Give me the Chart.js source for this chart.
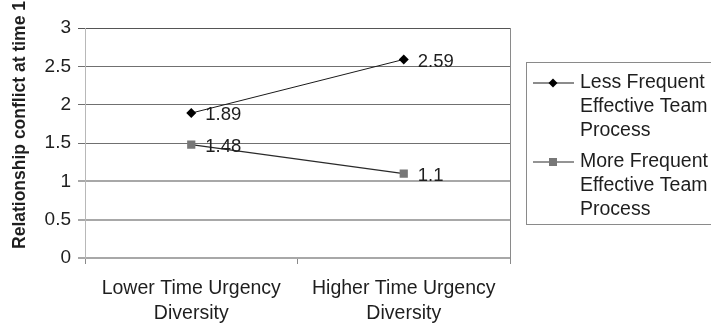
<!DOCTYPE html>
<html>
<head>
<meta charset="utf-8">
<script src="https://cdn.jsdelivr.net/npm/chart.js@4.4.1/dist/chart.umd.min.js"></script>
<style>
  html, body { margin: 0; padding: 0; background: #fff; }
  #wrap { position: relative; width: 711px; height: 326px; }
</style>
</head>
<body>
<div id="wrap"><canvas id="c" width="711" height="326"></canvas></div>
<script>
// Time urgency diversity groups on the x axis
const categories = [
  ['Lower Time Urgency', 'Diversity'],
  ['Higher Time Urgency', 'Diversity']
];
// Relationship conflict means per team-process group
const lessFrequent = [1.89, 2.59];
const moreFrequent = [1.48, 1.1];
const seriesNames = [
  ['Less Frequent', 'Effective Team', 'Process'],
  ['More Frequent', 'Effective Team', 'Process']
];
const yTicks = [0, 0.5, 1, 1.5, 2, 2.5, 3];
const yTitle = 'Relationship conflict at time 1';

const FONT = '"Liberation Sans", Arial, sans-serif';
const TEXT = '#1e1e1e';

// Value labels to the right of each point
const valueLabels = {
  id: 'valueLabels',
  afterDatasetsDraw(chart) {
    const ctx = chart.ctx;
    ctx.save();
    ctx.font = '18.5px ' + FONT;
    ctx.fillStyle = TEXT;
    ctx.textAlign = 'left';
    ctx.textBaseline = 'middle';
    chart.data.datasets.forEach((ds, i) => {
      chart.getDatasetMeta(i).data.forEach((pt, j) => {
        ctx.fillText(String(ds.data[j]), pt.x + 14, pt.y + 2);
      });
    });
    ctx.restore();
  }
};

// Plot frame on the right, rotated y title, boxed legend
const decorations = {
  id: 'decorations',
  afterDraw(chart) {
    const ctx = chart.ctx;
    const a = chart.chartArea;
    ctx.save();
    // right edge of plot area
    ctx.strokeStyle = '#8a8a8a';
    ctx.lineWidth = 1;
    ctx.beginPath();
    ctx.moveTo(a.right + 0.5, a.top);
    ctx.lineTo(a.right + 0.5, a.bottom + 6);
    ctx.stroke();

    // y axis title
    ctx.save();
    ctx.translate(20, (a.top + a.bottom) / 2 - 18);
    ctx.rotate(-Math.PI / 2);
    ctx.font = 'bold 17.5px ' + FONT;
    ctx.fillStyle = TEXT;
    ctx.textAlign = 'center';
    ctx.textBaseline = 'middle';
    ctx.fillText(yTitle, 0, 0);
    ctx.restore();

    // legend
    const lx = a.right + 16, ly = 62, lh = 162;
    ctx.strokeStyle = '#8a8a8a';
    ctx.lineWidth = 1;
    ctx.strokeRect(lx + 0.5, ly + 0.5, chart.width - lx + 10, lh);
    const rowH = 24;
    const groupTop = [83, 162];
    ctx.font = '19.5px ' + FONT;
    ctx.textAlign = 'left';
    ctx.textBaseline = 'middle';
    chart.data.datasets.forEach((ds, i) => {
      const y = groupTop[i];
      ctx.strokeStyle = ds.borderColor;
      ctx.lineWidth = 1.2;
      ctx.beginPath();
      ctx.moveTo(lx + 7, y);
      ctx.lineTo(lx + 48, y);
      ctx.stroke();
      ctx.fillStyle = ds.pointBackgroundColor;
      ctx.beginPath();
      if (ds.pointStyle === 'rectRot') {
        ctx.moveTo(lx + 27, y - 4.5);
        ctx.lineTo(lx + 31.5, y);
        ctx.lineTo(lx + 27, y + 4.5);
        ctx.lineTo(lx + 22.5, y);
        ctx.closePath();
      } else {
        ctx.rect(lx + 23, y - 4, 8, 8);
      }
      ctx.fill();
      ctx.fillStyle = TEXT;
      seriesNames[i].forEach((line, k) => {
        ctx.fillText(line, lx + 54, y + k * rowH);
      });
    });
    ctx.restore();
  }
};

new Chart(document.getElementById('c'), {
  type: 'line',
  data: {
    labels: categories,
    datasets: [
      {
        label: seriesNames[0].join(' '),
        data: lessFrequent,
        borderColor: '#1a1a1a',
        borderWidth: 1,
        pointStyle: 'rectRot',
        pointRadius: 5,
        pointBackgroundColor: '#000',
        pointBorderColor: '#000',
        pointBorderWidth: 0
      },
      {
        label: seriesNames[1].join(' '),
        data: moreFrequent,
        borderColor: '#2a2a2a',
        borderWidth: 1.3,
        pointStyle: 'rect',
        pointRadius: 5.8,
        pointBackgroundColor: '#777',
        pointBorderColor: '#777',
        pointBorderWidth: 0
      }
    ]
  },
  options: {
    responsive: false,
    animation: false,
    layout: { padding: { top: 28, right: 201, left: 0, bottom: 0 } },
    plugins: {
      legend: { display: false },
      tooltip: { enabled: false }
    },
    scales: {
      x: {
        offset: true,
        grid: {
          offset: true,
          drawOnChartArea: false,
          drawTicks: true,
          tickLength: 6,
          color: '#8a8a8a'
        },
        border: { display: false },
        ticks: {
          color: TEXT,
          font: { family: FONT, size: 19.5, lineHeight: 1.28 },
          padding: 12,
          maxRotation: 0
        },
        afterFit(scale) { scale.height = 68; }
      },
      y: {
        min: 0,
        max: 3,
        afterBuildTicks(scale) { scale.ticks = yTicks.map(v => ({ value: v })); },
        grid: {
          drawTicks: true,
          tickLength: 7,
          color: ctx => {
            const v = ctx.tick ? ctx.tick.value : 0;
            if (v >= 3) return '#555';
            return v >= 1.5 ? '#707070' : '#a8a8a8';
          },
          lineWidth: ctx => (ctx.tick && ctx.tick.value >= 1.5 ? 1 : 2)
        },
        border: { color: '#b8b8b8', width: 1 },
        ticks: {
          color: TEXT,
          font: { family: FONT, size: 19 },
          padding: 7,
          callback: v => String(v)
        },
        afterFit(scale) { scale.width = 85; }
      }
    }
  },
  plugins: [valueLabels, decorations]
});
</script>
</body>
</html>
